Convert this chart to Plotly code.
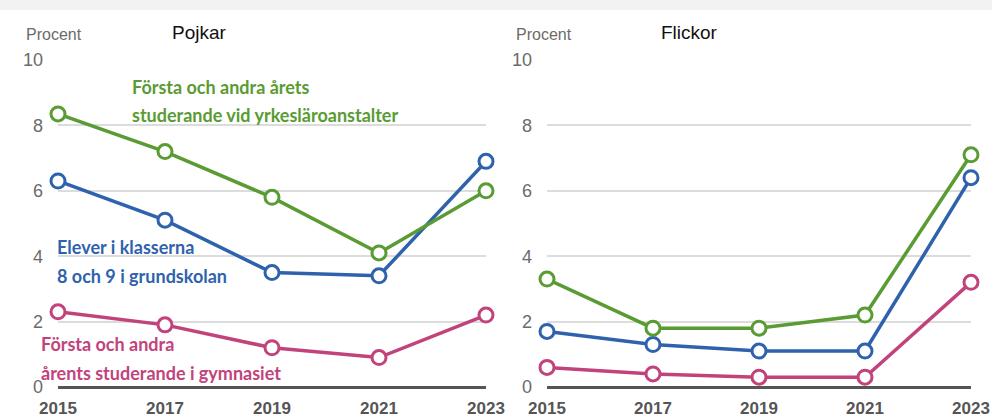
import plotly.graph_objects as go

years = [2015, 2017, 2019, 2021, 2023]

boys_vocational = [8.35, 7.2, 5.8, 4.1, 6.0]
boys_grade89 = [6.3, 5.1, 3.5, 3.4, 6.9]
boys_upper_sec = [2.3, 1.9, 1.2, 0.9, 2.2]

girls_vocational = [3.3, 1.8, 1.8, 2.2, 7.1]
girls_grade89 = [1.7, 1.3, 1.1, 1.1, 6.4]
girls_upper_sec = [0.6, 0.4, 0.3, 0.3, 3.2]

y_ticks = [0, 2, 4, 6, 8, 10]

GREEN = "#5a9b33"
BLUE = "#2f62ad"
PINK = "#c2437c"

fig = go.Figure()

def add(xa, ya, vals, color):
    fig.add_trace(go.Scatter(
        x=years, y=vals, xaxis=xa, yaxis=ya, mode="lines+markers",
        line=dict(color=color, width=3.5),
        marker=dict(symbol="circle", size=14, color="white",
                    line=dict(color=color, width=3)),
        cliponaxis=False, showlegend=False, hoverinfo="x+y"))

# order: pink, blue, green (green on top)
add("x", "y", boys_upper_sec, PINK)
add("x", "y", boys_grade89, BLUE)
add("x", "y", boys_vocational, GREEN)
add("x2", "y2", girls_upper_sec, PINK)
add("x2", "y2", girls_grade89, BLUE)
add("x2", "y2", girls_vocational, GREEN)

W, H = 992, 419
ydom = [(H - 387) / H, (H - 60) / H]

xcommon = dict(range=[2015, 2023], tickvals=years, showgrid=False, zeroline=False,
               showline=False, ticks="", ticklabelstandoff=9, automargin=False,
               tickfont=dict(family="Liberation Sans", size=17, color="#555555", weight="bold"))
ycommon = dict(range=[0, 10], tickvals=y_ticks, showgrid=True, gridcolor="#dcdcdc",
               gridwidth=2, zeroline=True, zerolinecolor="#555555", zerolinewidth=3,
               showline=False, ticks="", ticklabelstandoff=14, automargin=False,
               tickfont=dict(family="Liberation Sans", size=18, color="#6b6b6b"))

fig.update_layout(
    width=W, height=H, margin=dict(l=0, r=0, t=0, b=0, autoexpand=False),
    paper_bgcolor="white", plot_bgcolor="white",
    xaxis=dict(domain=[58 / W, 486 / W], anchor="y", **xcommon),
    yaxis=dict(domain=ydom, anchor="x", **ycommon),
    xaxis2=dict(domain=[547 / W, 971 / W], anchor="y2", **xcommon),
    yaxis2=dict(domain=ydom, anchor="x2", **ycommon),
)

# top light strip
fig.add_shape(type="rect", xref="paper", yref="paper", x0=0, x1=1,
              y0=(H - 10) / H, y1=1, fillcolor="#f2f2f2", line_width=0, layer="below")

def ann(x, y, text, size, color, family="Liberation Sans", xanchor="left"):
    fig.add_annotation(xref="paper", yref="paper", x=x / W, y=(H - y) / H, text=text,
                       showarrow=False, xanchor=xanchor, yanchor="middle", align="left",
                       font=dict(family=family, size=size, color=color))

ann(24, 34, "Procent", 16, "#6b6b6b")
ann(514, 34, "Procent", 16, "#6b6b6b")
ann(170, 33, "Pojkar", 19, "#111111")
ann(659, 33, "Flickor", 19, "#111111")

LBL = "Lato"
FS = 18
ann(130, 87, "<b>Första och andra årets</b>", FS, GREEN, LBL)
ann(130, 115, "<b>studerande vid yrkesläroanstalter</b>", FS, GREEN, LBL)
ann(55, 247, "<b>Elever i klasserna</b>", FS, BLUE, LBL)
ann(55, 276, "<b>8 och 9 i grundskolan</b>", FS, BLUE, LBL)
ann(39, 344, "<b>Första och andra</b>", FS, PINK, LBL)
ann(39, 373, "<b>årents studerande i gymnasiet</b>", FS, PINK, LBL)

fig.write_html("out.html", config={"displayModeBar": False},
               post_script="document.body.style.margin='0';document.body.style.overflow='hidden';")
